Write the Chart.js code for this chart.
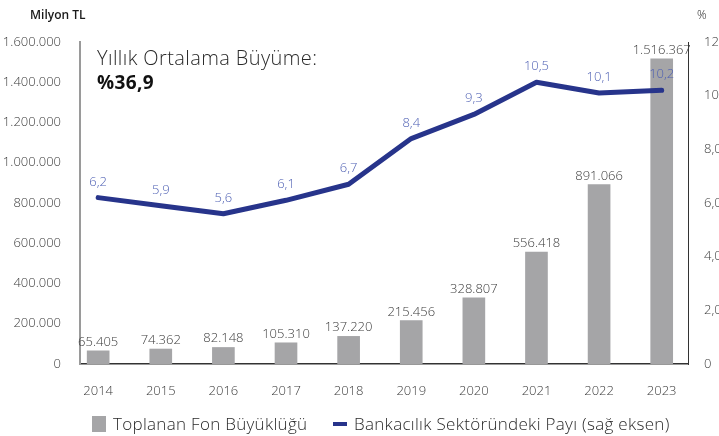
<!DOCTYPE html>
<html>
<head>
<meta charset="utf-8">
<script src="https://cdn.jsdelivr.net/npm/chart.js@4"></script>
<style>
  html, body { margin: 0; padding: 0; background: #fff; }
  #wrap { width: 719px; height: 436px; position: relative; }
</style>
</head>
<body>
<div id="wrap"><canvas id="fonChart" width="719" height="436"></canvas></div>
<script>
const years = ['2014', '2015', '2016', '2017', '2018', '2019', '2020', '2021', '2022', '2023'];
const fonBuyuklugu = [65405, 74362, 82148, 105310, 137220, 215456, 328807, 556418, 891066, 1516367];
const sektorPayi = [6.2, 5.9, 5.6, 6.1, 6.7, 8.4, 9.3, 10.5, 10.1, 10.2];
const leftTicks = [0, 200000, 400000, 600000, 800000, 1000000, 1200000, 1400000, 1600000];
const rightTicks = [0, 2, 4, 6, 8, 10, 12];

const FONT = '"Open Sans", "Noto Sans", sans-serif';
const barColor = '#a5a5a7';
const lineColor = '#27348b';

// binlik ayraç nokta ile
function fmtTL(n) {
  return String(n).replace(/\B(?=(\d{3})+(?!\d))/g, '.');
}
function fmtPct(n) {
  return n === 0 ? '0' : n.toFixed(1).replace('.', ',');
}

// etiketler, başlıklar ve lejant
const extrasPlugin = {
  id: 'extras',
  afterDatasetsDraw(chart) {
    const ctx = chart.ctx;
    ctx.save();
    ctx.textAlign = 'center';
    ctx.textBaseline = 'alphabetic';

    // bar değerleri
    ctx.font = '300 13px ' + FONT;
    ctx.fillStyle = '#3c3c3c';
    chart.getDatasetMeta(0).data.forEach((bar, i) => {
      ctx.fillText(fmtTL(fonBuyuklugu[i]), bar.x, bar.y - 5);
    });

    // çizgi değerleri
    ctx.fillStyle = '#4d5fb3';
    chart.getDatasetMeta(1).data.forEach((pt, i) => {
      ctx.fillText(fmtPct(sektorPayi[i]), pt.x, pt.y - 12);
    });

    // başlıklar
    ctx.textAlign = 'left';
    ctx.fillStyle = '#1a1a1a';
    ctx.font = '600 12px ' + FONT;
    ctx.fillText('Milyon TL', 30, 19);
    ctx.font = '300 12px ' + FONT;
    ctx.fillText('%', 697, 19);

    ctx.letterSpacing = '0.4px';
    ctx.fillStyle = '#2a2a2a';
    ctx.font = '300 20px ' + FONT;
    ctx.fillText('Yıllık Ortalama Büyüme:', 97, 65);
    ctx.fillStyle = '#111';
    ctx.font = '700 19px ' + FONT;
    ctx.fillText('%36,9', 97, 89);

    // lejant
    ctx.letterSpacing = '0.3px';
    ctx.fillStyle = barColor;
    ctx.fillRect(92, 416, 14, 16);
    ctx.fillStyle = '#2a2a2a';
    ctx.font = '300 17px ' + FONT;
    ctx.fillText('Toplanan Fon Büyüklüğü', 113, 430);
    ctx.fillStyle = lineColor;
    ctx.fillRect(333, 422, 14, 4);
    ctx.fillStyle = '#2a2a2a';
    ctx.fillText('Bankacılık Sektöründeki Payı (sağ eksen)', 354, 430);
    ctx.restore();
  }
};

const chart = new Chart(document.getElementById('fonChart').getContext('2d'), {
  data: {
    datasets: [
      {
        type: 'bar',
        label: 'Toplanan Fon Büyüklüğü',
        data: fonBuyuklugu.map((v, i) => ({ x: i, y: v })),
        backgroundColor: barColor,
        barThickness: 22,
        yAxisID: 'y',
        order: 2
      },
      {
        type: 'line',
        label: 'Bankacılık Sektöründeki Payı (sağ eksen)',
        data: sektorPayi.map((v, i) => ({ x: i, y: v })),
        borderColor: lineColor,
        borderWidth: 5,
        borderCapStyle: 'round',
        borderJoinStyle: 'round',
        pointRadius: 0,
        tension: 0,
        yAxisID: 'y1',
        order: 1
      }
    ]
  },
  options: {
    responsive: false,
    animation: false,
    layout: { padding: { top: 42, left: 0, right: 0, bottom: 0 } },
    plugins: {
      legend: { display: false },
      tooltip: { enabled: false }
    },
    scales: {
      x: {
        type: 'linear',
        offset: false,
        min: -0.29,
        max: 9.42,
        afterBuildTicks(scale) { scale.ticks = years.map((y, i) => ({ value: i })); },
        grid: { display: false },
        border: { display: true, color: '#333', width: 1.5 },
        ticks: {
          color: '#3c3c3c',
          font: { family: FONT, size: 13, weight: '300' },
          padding: 11,
          callback: v => years[v]
        },
        afterFit(scale) { scale.height = 72; }
      },
      y: {
        position: 'left',
        min: 0,
        max: 1600000,
        afterBuildTicks(scale) { scale.ticks = leftTicks.map(v => ({ value: v })); },
        grid: { display: false },
        border: { display: true, color: '#9a9a9a', width: 2 },
        ticks: {
          color: '#3c3c3c',
          font: { family: FONT, size: 13, weight: '300' },
          padding: 11,
          callback: v => fmtTL(v)
        },
        afterFit(scale) { scale.width = 80; }
      },
      y1: {
        position: 'right',
        min: 0,
        max: 12,
        afterBuildTicks(scale) { scale.ticks = rightTicks.map(v => ({ value: v })); },
        grid: { display: false },
        border: { display: true, color: '#333', width: 1 },
        ticks: {
          color: '#3c3c3c',
          font: { family: FONT, size: 13, weight: '300' },
          padding: 8,
          callback: v => fmtPct(v)
        },
        afterFit(scale) { scale.width = 31; }
      }
    }
  },
  plugins: [extrasPlugin]
});
</script>
</body>
</html>
